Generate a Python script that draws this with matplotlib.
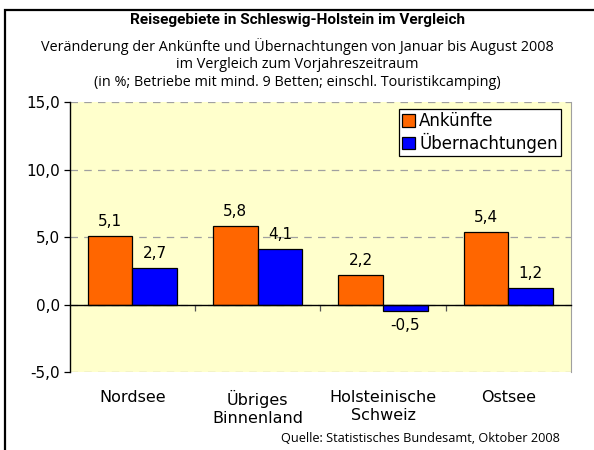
import matplotlib
matplotlib.use("Agg")
import matplotlib.pyplot as plt
import matplotlib.patches as mpatches
import numpy as np

# Data
regions = ["Nordsee", "Übriges\nBinnenland", "Holsteinische\nSchweiz", "Ostsee"]
ankuenfte = [5.1, 5.8, 2.2, 5.4]
uebernachtungen = [2.7, 4.1, -0.5, 1.2]
yticks = [-5.0, 0.0, 5.0, 10.0, 15.0]

title = "Reisegebiete in Schleswig-Holstein im Vergleich"
subtitle = ("Veränderung der Ankünfte und Übernachtungen von Januar bis August 2008\n"
            "im Vergleich zum Vorjahreszeitraum\n"
            "(in %; Betriebe mit mind. 9 Betten; einschl. Touristikcamping)")
source = "Quelle: Statistisches Bundesamt, Oktober 2008"

ORANGE = "#FF6600"
BLUE = "#0000FF"
BG = "#FFFFCC"

plt.rcParams["font.family"] = ["DejaVu Sans"]
head_font = ["Open Sans", "DejaVu Sans"]
title_font = ["Roboto", "DejaVu Sans"]

fig = plt.figure(figsize=(5.94, 4.5), dpi=100)
ax = fig.add_axes([69.7 / 594, 78 / 450, 501.3 / 594, 269.7 / 450])
ax.set_facecolor(BG)

x = np.arange(len(regions))
w = 0.357
b1 = ax.bar(x - w / 2, ankuenfte, w, color=ORANGE, edgecolor="black",
            linewidth=0.9, label="Ankünfte", zorder=3)
b2 = ax.bar(x + w / 2, uebernachtungen, w, color=BLUE, edgecolor="black",
            linewidth=0.9, label="Übernachtungen", zorder=3)

for bars in (b1, b2):
    for rect in bars:
        v = rect.get_height()
        txt = f"{v:.1f}".replace(".", ",")
        cx = rect.get_x() + rect.get_width() / 2
        if v >= 0:
            ax.annotate(txt, (cx, v), xytext=(0, 5), textcoords="offset points",
                        ha="center", va="bottom", fontsize=11)
        else:
            ax.annotate(txt, (cx, v), xytext=(0, -5), textcoords="offset points",
                        ha="center", va="top", fontsize=11)

ax.set_xlim(-0.5, len(regions) - 0.5)
ax.set_ylim(-5, 15)
ax.set_yticks(yticks)
ax.set_yticklabels([f"{t:.1f}".replace(".", ",") for t in yticks], fontsize=11)
ax.yaxis.grid(True, color="#A0A0A0", linestyle=(0, (6, 5)), linewidth=0.9, zorder=0)
ax.tick_params(axis="y", direction="out", length=4, width=0.9, pad=3)

# zero axis with boundary ticks
ax.spines["bottom"].set_position(("data", 0))
ax.spines["bottom"].set_zorder(4)
ax.spines["bottom"].set_linewidth(1.0)
ax.set_xticks(x[:-1] + 0.5)
ax.set_xticklabels([])
ax.tick_params(axis="x", direction="out", length=4, width=0.9, color="#555555")
ax.spines["top"].set_visible(False)
ax.spines["right"].set_color("#A0A0A0")
ax.spines["left"].set_linewidth(1.0)

for i, name in enumerate(regions):
    ax.text(i, -0.065, name, transform=ax.get_xaxis_transform(), ha="center",
            va="top", fontsize=11.5, linespacing=1.3)

leg = ax.legend(loc="upper right", bbox_to_anchor=(0.980, 0.975), borderaxespad=0,
                fontsize=12, fancybox=False, framealpha=1, edgecolor="black",
                handlelength=0.75, handleheight=0.75, handletextpad=0.25,
                borderpad=0.2, labelspacing=0.15)
leg.get_frame().set_linewidth(0.9)

fig.text(0.5, 1 - 20 / 450, title, ha="center", va="center", fontsize=11.1,
         fontweight="bold", family=title_font)
fig.text(0.5, 1 - 64 / 450, subtitle, ha="center", va="center", fontsize=10.4,
         family=head_font, linespacing=1.22)
fig.text(560 / 594, 1 - 438 / 450, source, ha="right", va="center", fontsize=9.2,
         family=head_font)

frame = mpatches.Rectangle((5 / 594, -0.2), 1.5, 1 - 10 / 450 + 0.2,
                           transform=fig.transFigure, fill=False,
                           edgecolor="black", linewidth=1.6, clip_on=False)
fig.patches.append(frame)

fig.savefig("out.png", dpi=100)
